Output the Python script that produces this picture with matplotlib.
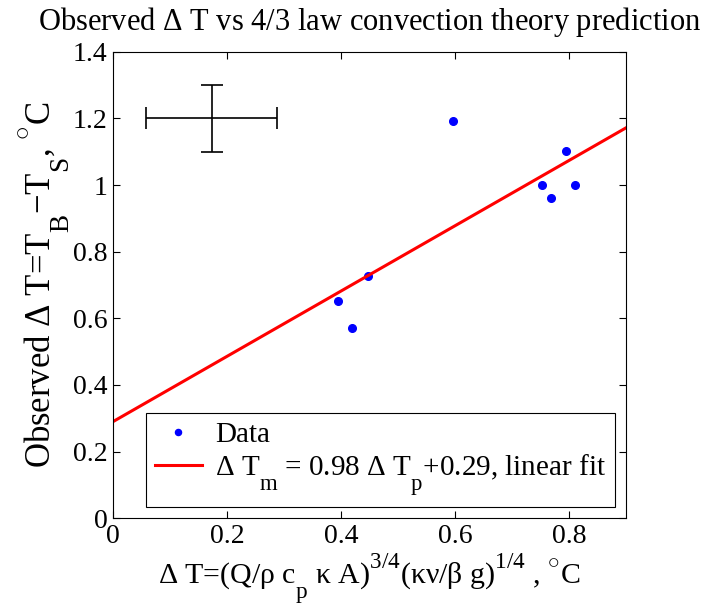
import matplotlib
matplotlib.use("Agg")
import matplotlib.pyplot as plt
import matplotlib._mathtext as _mt
import numpy as np

# MATLAB-like sub/superscript placement (lower subscripts, higher superscripts)
_mt.SHRINK_FACTOR = 0.78
_mt.FontConstantsBase.sub1 = 1.1
_mt.FontConstantsBase.sub2 = 1.1
_mt.FontConstantsBase.sup1 = 1.1

plt.rcParams['font.family'] = ['Liberation Serif', 'DejaVu Serif']
plt.rcParams['mathtext.fontset'] = 'custom'
plt.rcParams['mathtext.rm'] = 'Liberation Serif'
plt.rcParams['mathtext.it'] = 'Liberation Serif'
plt.rcParams['mathtext.bf'] = 'Liberation Serif'

x_pred = [0.394, 0.420, 0.448, 0.597, 0.753, 0.769, 0.795, 0.811]
y_obs = [0.652, 0.571, 0.727, 1.192, 1.000, 0.961, 1.102, 1.000]
fit_slope = 0.98
fit_intercept = 0.29
err_center = (0.173, 1.20)
err_x = 0.115
err_y = 0.10

fig = plt.figure(figsize=(7.02, 6.09), dpi=100)
ax = fig.add_axes([0.161, 0.149, 0.731, 0.766])

ax.plot(x_pred, y_obs, 'o', color='blue', markersize=5.5, label='Data', linestyle='none')
xf = np.array([0, 0.9])
ax.plot(xf, fit_slope * xf + fit_intercept, color='red', lw=2.2,
        label=r'$\Delta$ T$_{\mathrm{m}}$ = 0.98 $\Delta$ T$_{\mathrm{p}}$+0.29, linear fit')
ax.errorbar([err_center[0]], [err_center[1]], xerr=[err_x], yerr=[err_y], color='black',
            lw=1.2, capsize=8, capthick=1.2, fmt='none')

ax.set_xlim(0, 0.9)
ax.set_ylim(0, 1.4)
ax.set_xticks([0, 0.2, 0.4, 0.6, 0.8])
ax.set_xticklabels(['0', '0.2', '0.4', '0.6', '0.8'])
ax.set_yticks([0, 0.2, 0.4, 0.6, 0.8, 1.0, 1.2, 1.4])
ax.set_yticklabels(['0', '0.2', '0.4', '0.6', '0.8', '1', '1.2', '1.4'])
ax.tick_params(direction='in', labelsize=20, top=True, right=True, length=5, width=0.8, pad=4)
for s in ax.spines.values():
    s.set_linewidth(0.8)

ax.set_title(r'Observed $\Delta$ T vs 4/3 law convection theory prediction', fontsize=22, pad=16)
ax.set_xlabel(r'$\Delta$ T=(Q/$\rho$ c$_{\mathrm{p}}$ $\kappa$ A)$^{3/4}$($\kappa\nu$/$\beta$ g)$^{1/4}$ , $^{\circ}$C',
              fontsize=21.5, labelpad=2)
ax.set_ylabel(r'Observed $\Delta$ T=T$_{\mathrm{B}}$$-$T$_{\mathrm{S}}$, $^{\circ}$C', fontsize=25, labelpad=0)

leg = ax.legend(loc='lower right', fontsize=21, frameon=True, fancybox=False,
                edgecolor='black', framealpha=1, borderpad=0.3, handlelength=1.6,
                handletextpad=0.45, borderaxespad=0.4, labelspacing=0.15, markerscale=0.8)
leg.get_frame().set_linewidth(0.8)

fig.savefig('out.png', dpi=100)
